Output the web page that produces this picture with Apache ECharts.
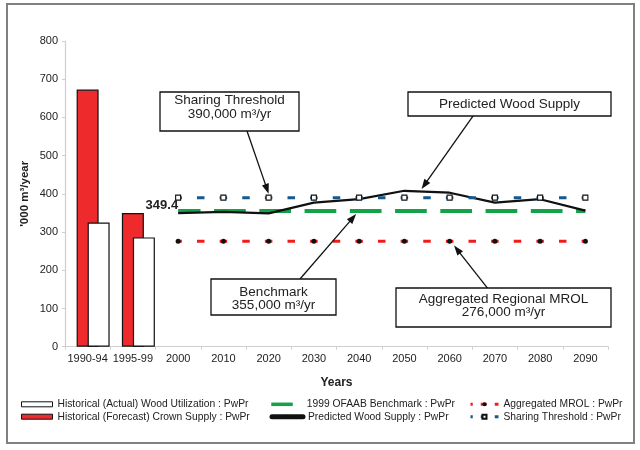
<!DOCTYPE html>
<html>
<head>
<meta charset="utf-8">
<script src="https://cdn.jsdelivr.net/npm/echarts@6/dist/echarts.min.js"></script>
<style>
  html, body { margin: 0; padding: 0; background: #ffffff; }
  #chart { width: 640px; height: 450px; }
</style>
</head>
<body>
<div id="chart"></div>
<script>
const categories = ['1990-94', '1995-99', '2000', '2010', '2020', '2030', '2040', '2050', '2060', '2070', '2080', '2090'];
const actualUtilization = [325, 286, '-', '-', '-', '-', '-', '-', '-', '-', '-', '-'];
const crownSupply = [673, 350, '-', '-', '-', '-', '-', '-', '-', '-', '-', '-'];
const benchmark = ['-', '-', 355, 355, 355, 355, 355, 355, 355, 355, 355, 355];
const predictedSupply = ['-', '-', 349.4, 353, 349, 377, 386, 408, 403, 377, 386, 356];
const mrol = ['-', '-', 276, 276, 276, 276, 276, 276, 276, 276, 276, 276];
const sharingThreshold = ['-', '-', 390, 390, 390, 390, 390, 390, 390, 390, 390, 390];
const yTicks = { min: 0, max: 800, interval: 100 };
const yAxisTitle = "'000 m³/year";

const FONT = '"Liberation Sans", Arial, sans-serif';
const TXT = '#222222';
const RED = '#ee2a2c';
const GREEN = '#13a24a';
const BLUE = '#155a8a';
const DASH_RED = '#f01c1c';

const chart = echarts.init(document.getElementById('chart'), null, { renderer: 'canvas' });

function legendItem(name, left, top, extra) {
  return Object.assign({
    data: [name], left: left, top: top, padding: 0, orient: 'vertical',
    selectedMode: false,
    itemWidth: 31, itemHeight: 5,
    textStyle: { fontFamily: FONT, fontSize: 10.3, color: TXT, lineHeight: 12 }
  }, extra || {});
}

const option = {
  animation: false,
  backgroundColor: '#ffffff',
  textStyle: { fontFamily: FONT },
  grid: { left: 65, right: 32, top: 41, bottom: 103.3, containLabel: false },
  legend: [
    legendItem('Historical (Actual) Wood Utilization : PwPr', 21, 398.3, {
      icon: 'rect', itemStyle: { borderWidth: 1, borderColor: '#111111' }
    }),
    legendItem('Historical (Forecast) Crown Supply : PwPr', 21, 410.7, {
      icon: 'rect', itemStyle: { borderWidth: 1, borderColor: '#111111' }
    }),
    legendItem('1999 OFAAB Benchmark : PwPr', 269.5, 398.3, {
      itemWidth: 21.5, itemHeight: 4,
      lineStyle: { width: 3.5, type: 'solid' },
      textStyle: { fontFamily: FONT, fontSize: 10.3, color: TXT, lineHeight: 12, padding: [0, 0, 0, 9] }
    }),
    legendItem('Predicted Wood Supply : PwPr', 269.5, 410.7, {
      itemWidth: 31, itemHeight: 5,
      lineStyle: { width: 5, type: 'solid', cap: 'round' }
    }),
    legendItem('Aggregated MROL : PwPr', 469, 398.3, {
      itemWidth: 28, itemHeight: 5,
      lineStyle: { width: 3, type: [6, 8] }
    }),
    legendItem('Sharing Threshold : PwPr', 469, 410.7, {
      itemWidth: 28, itemHeight: 5,
      lineStyle: { width: 3, type: [6, 8] }
    })
  ],
  xAxis: {
    type: 'category',
    data: categories,
    boundaryGap: true,
    name: 'Years',
    nameLocation: 'middle',
    nameGap: 30,
    nameTextStyle: { fontFamily: FONT, fontSize: 12, fontWeight: 'bold', color: TXT },
    axisLine: { show: true, lineStyle: { color: '#cfcfcf', width: 1.2 } },
    axisTick: { show: true, alignWithLabel: false, length: 3, lineStyle: { color: '#cfcfcf' } },
    axisLabel: { fontFamily: FONT, fontSize: 11, color: TXT, margin: 7, interval: 0 },
    splitLine: { show: false }
  },
  yAxis: {
    type: 'value',
    min: yTicks.min, max: yTicks.max, interval: yTicks.interval,
    axisLine: { show: true, lineStyle: { color: '#cfcfcf', width: 1.2 } },
    axisTick: { show: true, length: 3, lineStyle: { color: '#cfcfcf' } },
    axisLabel: { fontFamily: FONT, fontSize: 11, color: TXT, margin: 7 },
    splitLine: { show: false }
  },
  series: [
    {
      name: '_spacer', type: 'bar', data: categories.map(() => '-'),
      barWidth: 22, barGap: '-50%', silent: true, itemStyle: { color: 'transparent' }
    },
    {
      name: 'Historical (Forecast) Crown Supply : PwPr', type: 'bar', data: crownSupply,
      barWidth: 22, barGap: '-50%',
      itemStyle: { color: RED, borderColor: '#111111', borderWidth: 1.2 }
    },
    {
      name: 'Historical (Actual) Wood Utilization : PwPr', type: 'bar', data: actualUtilization,
      barWidth: 22, barGap: '-50%',
      itemStyle: { color: '#ffffff', borderColor: '#111111', borderWidth: 1.2 }
    },
    {
      name: '1999 OFAAB Benchmark : PwPr', type: 'line', data: benchmark,
      showSymbol: false, symbol: 'none', color: GREEN,
      lineStyle: { color: GREEN, width: 4, type: [31.7, 13.55], dashOffset: 9.3, cap: 'butt' }
    },
    {
      name: 'Predicted Wood Supply : PwPr', type: 'line', data: predictedSupply,
      symbol: 'none', color: '#111111',
      lineStyle: { color: '#111111', width: 2.2 },
      label: { show: false },
      markPoint: {
        symbol: 'circle', symbolSize: 0,
        label: {
          show: true, position: 'left', distance: 0, offset: [0, -8],
          formatter: '{c}',
          fontFamily: FONT, fontSize: 13, fontWeight: 'bold', color: TXT
        },
        data: [{ coord: [2, predictedSupply[2]], value: predictedSupply[2] }]
      }
    },
    {
      name: 'Aggregated MROL : PwPr', type: 'line', data: mrol,
      symbol: 'circle', symbolSize: 5, color: DASH_RED,
      itemStyle: { color: '#111111', borderWidth: 0 },
      lineStyle: { color: DASH_RED, width: 3, type: [7.5, 15.125], dashOffset: 3.75, cap: 'butt' }
    },
    {
      name: 'Sharing Threshold : PwPr', type: 'line', data: sharingThreshold,
      symbol: 'rect', symbolSize: 5, color: BLUE,
      itemStyle: { color: '#ffffff', borderColor: '#111111', borderWidth: 1.1 },
      lineStyle: { color: BLUE, width: 3, type: [7.5, 15.125], dashOffset: 3.75, cap: 'butt' }
    }
  ]
};

chart.setOption(option);

// ---- annotations (boxes + arrows) ----
function px(idx, val) {
  return chart.convertToPixel({ xAxisIndex: 0, yAxisIndex: 0 }, [idx, val]);
}
function lerp(a, b, t) { return [a[0] + (b[0] - a[0]) * t, a[1] + (b[1] - a[1]) * t]; }

function arrow(tail, tip) {
  const dx = tip[0] - tail[0], dy = tip[1] - tail[1];
  const len = Math.sqrt(dx * dx + dy * dy);
  const ux = dx / len, uy = dy / len;
  const hl = 10, hw = 3.6;
  const bx = tip[0] - ux * hl, by = tip[1] - uy * hl;
  return [
    { type: 'line', shape: { x1: tail[0], y1: tail[1], x2: bx + ux * 2, y2: by + uy * 2 },
      style: { stroke: '#111111', lineWidth: 1.3 }, z: 100 },
    { type: 'polygon', shape: { points: [tip, [bx - uy * hw, by + ux * hw], [bx + uy * hw, by - ux * hw]] },
      style: { fill: '#111111' }, z: 100 }
  ];
}

function box(x, y, w, h, lines, lineYs) {
  const els = [{ type: 'rect', shape: { x: x, y: y, width: w, height: h },
    style: { fill: '#ffffff', stroke: '#111111', lineWidth: 1.3 }, z: 100 }];
  lines.forEach((t, i) => {
    els.push({ type: 'text', x: x + w / 2, y: lineYs[i], z: 101,
      style: { text: t, fill: TXT, font: '13.5px ' + FONT, align: 'center', verticalAlign: 'middle' } });
  });
  return els;
}

const tipSharing = px(4, sharingThreshold[4]); tipSharing[1] -= 4;
const pA = px(7, predictedSupply[7]), pB = px(8, predictedSupply[8]);
const tipPred = lerp(pA, pB, 0.38); tipPred[1] -= 2.5;
const tipBench = px(6, benchmark[6]); tipBench[0] -= 3; tipBench[1] += 3;
const tipMrol = px(8, mrol[8]); tipMrol[0] += 4.4; tipMrol[1] += 4.3;

// y-axis title, centred on the value axis
const yMid = (px(0, yTicks.min)[1] + px(0, yTicks.max)[1]) / 2;

let graphics = [
  { type: 'rect', shape: { x: 7, y: 4, width: 627, height: 439 },
    style: { fill: 'none', stroke: '#808080', lineWidth: 2 }, z: 0, silent: true },
  { type: 'text', x: 25, y: yMid, rotation: Math.PI / 2, z: 50,
    style: { text: yAxisTitle, fill: TXT, font: 'bold 11.5px ' + FONT, align: 'center', verticalAlign: 'middle' } }
];
graphics = graphics
  .concat(arrow([247, 131], tipSharing))
  .concat(arrow([473.3, 115.7], tipPred))
  .concat(arrow([300, 279], tipBench))
  .concat(arrow([487.7, 288.3], tipMrol))
  .concat(box(160, 92, 139, 39, ['Sharing Threshold', '390,000 m³/yr'], [100.7, 114.2]))
  .concat(box(408, 92, 203, 24, ['Predicted Wood Supply'], [104.3]))
  .concat(box(211, 279, 125, 36, ['Benchmark', '355,000 m³/yr'], [292.3, 305.5]))
  .concat(box(396, 288, 215, 39, ['Aggregated Regional MROL', '276,000 m³/yr'], [299.3, 312.5]));

chart.setOption({ graphic: graphics });
</script>
</body>
</html>
